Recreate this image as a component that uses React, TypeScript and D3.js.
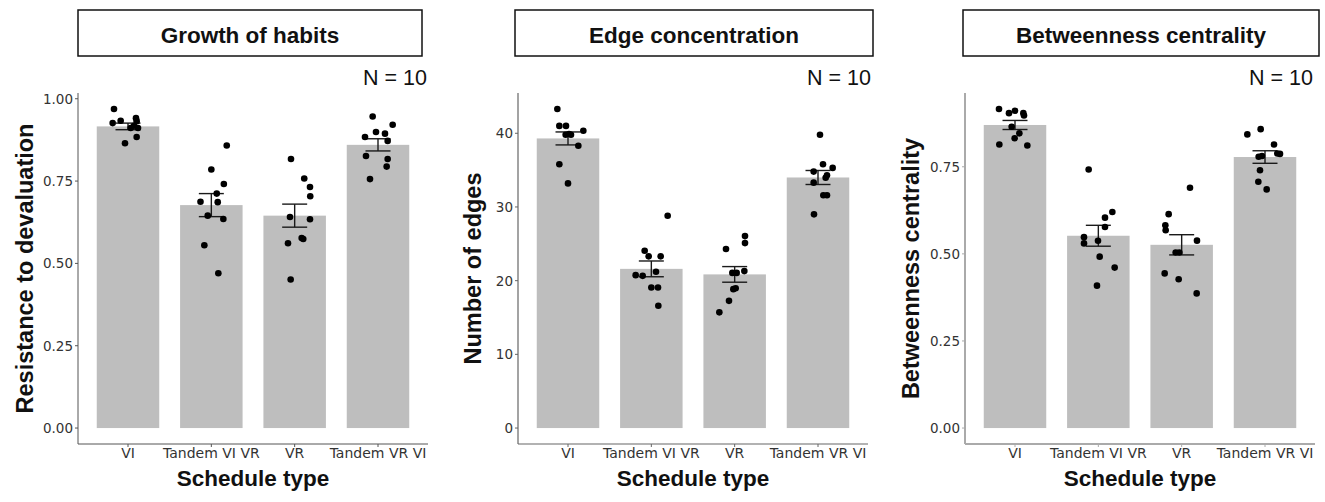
import React from "react";
import * as d3 from "d3";

const categories = ["VI", "Tandem VI VR", "VR", "Tandem VR VI"];
const panelTitles = ["Growth of habits", "Edge concentration", "Betweenness centrality"];
const yTitles = ["Resistance to devaluation", "Number of edges", "Betweenness centrality"];
const xTitle = "Schedule type";
const nLabel = "N = 10";

const habitsTicks = [0, 0.25, 0.5, 0.75, 1.0];
const edgesTicks = [0, 10, 20, 30, 40];
const centralityTicks = [0, 0.25, 0.5, 0.75];

const habitsMeans = [0.916, 0.677, 0.645, 0.86];
const habitsSE = [0.01, 0.035, 0.035, 0.0185];
const habitsPoints = [
  [0.969, 0.926, 0.933, 0.941, 0.932, 0.911, 0.911, 0.884, 0.865, 0.918],
  [0.858, 0.785, 0.741, 0.712, 0.687, 0.686, 0.645, 0.635, 0.555, 0.47],
  [0.817, 0.758, 0.732, 0.704, 0.641, 0.634, 0.561, 0.577, 0.574, 0.451],
  [0.946, 0.921, 0.899, 0.894, 0.884, 0.872, 0.826, 0.817, 0.794, 0.756],
];
const habitsJitter = [
  [-0.168, -0.184, -0.088, 0.096, 0.104, 0.032, 0.12, 0.104, -0.036, 0.072],
  [0.185, 0, 0.15, 0.065, -0.13, 0.077, -0.043, 0.144, -0.084, 0.084],
  [-0.044, 0.115, 0.184, 0.187, -0.056, 0.184, -0.08, 0.084, 0.103, -0.048],
  [-0.064, 0.176, -0.024, 0.084, -0.156, 0.116, -0.144, 0.116, 0.104, -0.096],
];

const edgesMeans = [39.3, 21.6, 20.85, 34.0];
const edgesSE = [0.88, 1.07, 1.06, 0.95];
const edgesPoints = [
  [43.3, 41.0, 41.0, 40.35, 39.8, 39.8, 38.3, 35.8, 33.2, 39.9],
  [28.8, 24.05, 23.3, 23.3, 20.75, 20.65, 21.2, 19.07, 19.07, 16.6],
  [24.3, 26.05, 25.1, 21.05, 21.05, 21.3, 18.85, 18.98, 17.26, 15.7],
  [39.8, 35.8, 35.3, 34.8, 34.3, 33.97, 33.3, 31.6, 31.6, 29.0],
];
const edgesJitter = [
  [-0.128, -0.104, -0.024, 0.184, -0.028, 0.036, 0.124, -0.104, 0, 0.012],
  [0.196, -0.08, -0.032, 0.112, -0.188, -0.104, 0.056, 0, 0.08, 0.084],
  [-0.104, 0.124, 0.124, -0.028, 0.024, 0.116, -0.016, 0.012, -0.068, -0.184],
  [0.024, 0.06, 0.176, -0.052, 0.108, 0.092, -0.052, 0.064, 0.108, -0.048],
];

const centralityMeans = [0.87, 0.552, 0.526, 0.778];
const centralitySE = [0.013, 0.03, 0.029, 0.018];
const centralityPoints = [
  [0.916, 0.904, 0.911, 0.904, 0.897, 0.865, 0.846, 0.832, 0.814, 0.811],
  [0.742, 0.62, 0.604, 0.577, 0.548, 0.53, 0.5375, 0.492, 0.4606, 0.4087],
  [0.69, 0.614, 0.582, 0.568, 0.538, 0.504, 0.504, 0.444, 0.427, 0.3865],
  [0.858, 0.843, 0.814, 0.787, 0.788, 0.779, 0.781, 0.74, 0.707, 0.685],
];
const centralityJitter = [
  [-0.192, -0.072, 0, 0.1, 0.108, -0.04, 0.052, -0.004, -0.188, 0.148],
  [-0.116, 0.168, 0.08, 0.08, -0.172, -0.172, -0.004, 0.016, 0.196, -0.016],
  [0.1, -0.156, -0.196, -0.192, 0.184, -0.072, -0.028, -0.204, -0.036, 0.18],
  [-0.052, -0.212, 0.108, 0.18, 0.148, -0.076, -0.036, -0.06, -0.08, 0.02],
];

const panelData = [
  { means: habitsMeans, se: habitsSE, points: habitsPoints, jitter: habitsJitter, ticks: habitsTicks, fmt: d3.format(".2f") },
  { means: edgesMeans, se: edgesSE, points: edgesPoints, jitter: edgesJitter, ticks: edgesTicks, fmt: d3.format("d") },
  { means: centralityMeans, se: centralitySE, points: centralityPoints, jitter: centralityJitter, ticks: centralityTicks, fmt: d3.format(".2f") },
];

// layout
const layout = [
  { left: 78, boxL: 78, boxR: 422, nRight: 427, yTitleX: 33, axisColor: "#555", axisW: 1 },
  { left: 518, boxL: 515, boxR: 873, nRight: 871, yTitleX: 481, axisColor: "#666", axisW: 1.2 },
  { left: 965, boxL: 963, boxR: 1319, nRight: 1313, yTitleX: 919, axisColor: "#aaa", axisW: 2 },
];
const PW = 350;
const TOP = 93;
const BOTTOM = 444;

const Panel = ({ i }: { i: number }) => {
  const d = panelData[i];
  const L = layout[i];
  const x = d3
    .scaleBand<string>()
    .domain(categories)
    .range([L.left, L.left + PW])
    .paddingInner(0.25)
    .paddingOuter(0.225);
  const allMax = d3.max([
    ...d.points.flat(),
    ...d.means.map((m, k) => m + d.se[k]),
  ]) as number;
  const y = d3
    .scaleLinear()
    .domain([0 - 0.05 * allMax, allMax * 1.05])
    .range([BOTTOM, TOP]);
  const bw = x.bandwidth();
  const step = x.step();
  const cap = 0.4 * bw;
  const sans = "'Liberation Sans', Arial, Helvetica, sans-serif";
  const tickFont = "'DejaVu Sans', sans-serif";
  const midY = (TOP + BOTTOM) / 2;
  return (
    <g>
      {/* title box */}
      <rect x={L.boxL} y={10} width={L.boxR - L.boxL} height={46} fill="white" stroke="#111" strokeWidth={1.5} />
      <text x={(L.boxL + L.boxR) / 2} y={42.5} textAnchor="middle" fontFamily={sans} fontWeight="bold" fontSize={22.5} fill="#111">
        {panelTitles[i]}
      </text>
      <text x={L.nRight} y={85} textAnchor="end" fontFamily={sans} fontSize={21.5} fill="#111">
        {nLabel}
      </text>
      {/* bars */}
      {categories.map((c, k) => (
        <rect key={c} x={x(c)} y={y(d.means[k])} width={bw} height={y(0) - y(d.means[k])} fill="#bebebe" />
      ))}
      {/* error bars */}
      {categories.map((c, k) => {
        const cx = (x(c) as number) + bw / 2;
        const hi = y(d.means[k] + d.se[k]);
        const lo = y(d.means[k] - d.se[k]);
        return (
          <g key={"e" + c} stroke="#1a1a1a" strokeWidth={1.4}>
            <line x1={cx} x2={cx} y1={hi} y2={lo} />
            <line x1={cx - cap / 2} x2={cx + cap / 2} y1={hi} y2={hi} />
            <line x1={cx - cap / 2} x2={cx + cap / 2} y1={lo} y2={lo} />
          </g>
        );
      })}
      {/* points */}
      {categories.map((c, k) =>
        d.points[k].map((v, j) => (
          <circle
            key={c + j}
            cx={(x(c) as number) + bw / 2 + d.jitter[k][j] * step}
            cy={y(v)}
            r={3.3}
            fill="#000"
          />
        ))
      )}
      {/* axes */}
      <line x1={L.left} x2={L.left} y1={TOP} y2={BOTTOM} stroke={L.axisColor} strokeWidth={L.axisW} />
      <line x1={L.left} x2={L.left + PW} y1={BOTTOM} y2={BOTTOM} stroke={L.axisColor} strokeWidth={L.axisW} />
      {d.ticks.map((t) => (
        <g key={"t" + t}>
          <line x1={L.left - 3} x2={L.left} y1={y(t)} y2={y(t)} stroke={L.axisColor} strokeWidth={1} />
          <text x={L.left - 5} y={y(t)} dy="0.36em" textAnchor="end" fontFamily={tickFont} fontSize={13.5} fill="#333">
            {d.fmt(t)}
          </text>
        </g>
      ))}
      {categories.map((c) => {
        const cx = (x(c) as number) + bw / 2;
        return (
          <g key={"x" + c}>
            <line x1={cx} x2={cx} y1={BOTTOM} y2={BOTTOM + 3} stroke={L.axisColor} strokeWidth={1} />
            <text x={cx} y={458} textAnchor="middle" fontFamily={tickFont} fontSize={14} fill="#333">
              {c}
            </text>
          </g>
        );
      })}
      <text x={L.left + PW / 2} y={486} textAnchor="middle" fontFamily={sans} fontWeight="bold" fontSize={22.5} fill="#111">
        {xTitle}
      </text>
      <text
        transform={`translate(${L.yTitleX},${midY}) rotate(-90)`}
        textAnchor="middle"
        fontFamily={sans}
        fontWeight="bold"
        fontSize={23.5}
        fill="#111"
      >
        {yTitles[i]}
      </text>
    </g>
  );
};

export default function App() {
  return (
    <svg
      width={1325}
      height={502}
      style={{ position: "fixed", left: 0, top: 0, background: "white" }}
    >
      <rect x={0} y={0} width={1325} height={502} fill="white" />
      {[0, 1, 2].map((i) => (
        <Panel key={i} i={i} />
      ))}
    </svg>
  );
}
